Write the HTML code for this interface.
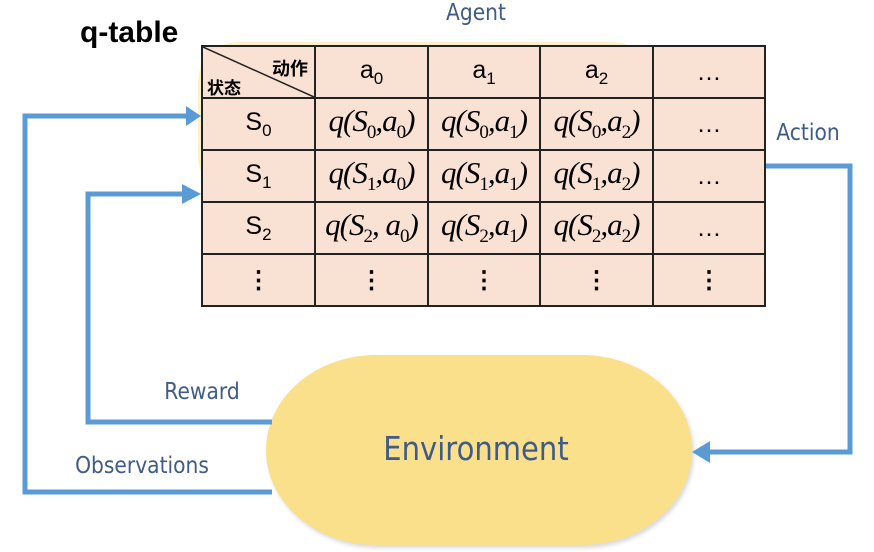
<!DOCTYPE html>
<html><head><meta charset="utf-8"><style>
body{margin:0;width:874px;height:552px;background:#fff;overflow:hidden;position:relative;font-family:"Liberation Sans","Noto Sans CJK SC",sans-serif}
.lbl{position:absolute;color:#3f5b86;font-family:"DejaVu Sans","Liberation Sans",sans-serif;font-size:23px;transform:translateX(-50%) scaleX(0.88);white-space:nowrap}
table{position:absolute;left:201px;top:45px;border-collapse:collapse;background:#f9e1d4;table-layout:fixed}
td{border:2px solid #222;text-align:center;font-size:25px;padding:0;height:50px;overflow:visible}
td.q{font-family:"Liberation Serif",serif;font-style:italic;font-size:31px;white-space:nowrap;letter-spacing:-1px}
td.q sub{font-style:normal;font-size:19px}
sub{font-size:17px}
td.d{font-size:24px;font-weight:bold}
</style></head><body>
<div style="position:absolute;left:198px;top:42px;width:455px;height:155px;background:#fbe7a6;border-radius:40px;opacity:0.6"></div>
<div style="position:absolute;left:266px;top:355px;width:426px;height:190px;background:#fbe08c;border-radius:110px/95px;box-shadow:2px 3px 4px rgba(0,0,0,0.15)"></div>
<svg width="874" height="552" style="position:absolute;left:0;top:0">
<g fill="none" stroke="#5b9bd5" stroke-width="5">
<polyline points="272,492 25,492 25,116 188,116"/>
<polyline points="272,422 88,422 88,194 184,194"/>
<polyline points="764,166 850,166 850,452 708,452"/>
</g>
<g fill="#5b9bd5">
<polygon points="201,116 186,106 186,126"/>
<polygon points="201,194 182,184 182,204"/>
<polygon points="692,452 710,441 710,463"/>
</g>
</svg>
<table>
<tr><td style="width:111px;position:relative;height:50px"><svg width="111" height="50" style="position:absolute;left:0;top:0"><line x1="0" y1="0" x2="111" y2="50" stroke="#222" stroke-width="1.5"/></svg><span style="position:absolute;right:6px;top:8px;font-size:18px;font-weight:bold">动作</span><span style="position:absolute;left:4px;top:27px;font-size:17px;font-weight:bold">状态</span></td>
<td style="width:111px">a<sub>0</sub></td><td style="width:110px">a<sub>1</sub></td><td style="width:111px">a<sub>2</sub></td><td style="width:110px">…</td></tr>
<tr><td>S<sub>0</sub></td><td class="q">q(S<sub>0</sub>,a<sub>0</sub>)</td><td class="q">q(S<sub>0</sub>,a<sub>1</sub>)</td><td class="q">q(S<sub>0</sub>,a<sub>2</sub>)</td><td>…</td></tr>
<tr><td>S<sub>1</sub></td><td class="q">q(S<sub>1</sub>,a<sub>0</sub>)</td><td class="q">q(S<sub>1</sub>,a<sub>1</sub>)</td><td class="q">q(S<sub>1</sub>,a<sub>2</sub>)</td><td>…</td></tr>
<tr><td>S<sub>2</sub></td><td class="q">q(S<sub>2</sub>, a<sub>0</sub>)</td><td class="q">q(S<sub>2</sub>,a<sub>1</sub>)</td><td class="q">q(S<sub>2</sub>,a<sub>2</sub>)</td><td>…</td></tr>
<tr><td class="d" style="height:40px">⋮</td><td class="d">⋮</td><td class="d">⋮</td><td class="d">⋮</td><td class="d">⋮</td></tr>
</table>
<div style="position:absolute;left:80px;top:16px;font-size:30px;font-weight:bold;color:#000">q-table</div>
<div class="lbl" style="left:476px;top:0px">Agent</div>
<div class="lbl" style="left:808px;top:120px">Action</div>
<div class="lbl" style="left:202px;top:379px">Reward</div>
<div class="lbl" style="left:142px;top:453px">Observations</div>
<div class="lbl" style="left:476px;top:429px;font-size:33px">Environment</div>
</body></html>
